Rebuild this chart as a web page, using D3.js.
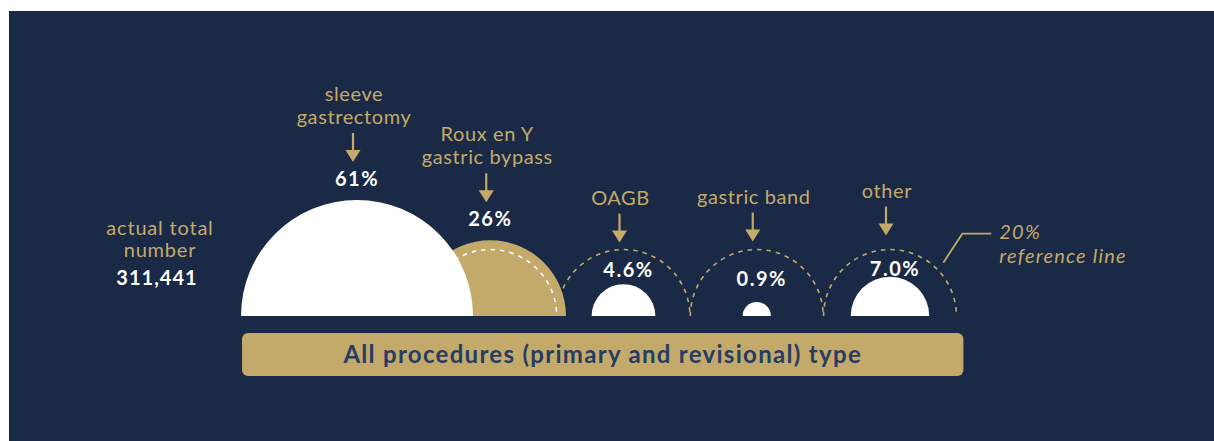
<!DOCTYPE html>
<html>
<head>
<meta charset="utf-8">
<style>
  body { margin: 0; background: #fff; }
  svg { display: block; }
  text { font-family: Lato, "Open Sans", sans-serif; }
</style>
</head>
<body>
<div id="chart"></div>
<script src="https://cdn.jsdelivr.net/npm/d3@7"></script>
<script>
// data
var categories = ["sleeve gastrectomy", "Roux en Y gastric bypass", "OAGB", "gastric band", "other"];
var labelLines = [["sleeve", "gastrectomy"], ["Roux en Y", "gastric bypass"], ["OAGB"], ["gastric band"], ["other"]];
var shares = [61, 26, 4.6, 0.9, 7.0];
var shareLabels = ["61%", "26%", "4.6%", "0.9%", "7.0%"];
var referenceShare = 20;
var totalLabel = ["actual total", "number"];
var totalNumber = "311,441";
var barTitle = "All procedures (primary and revisional) type";
var refNote = ["20%", "reference line"];

// small layout nudges (px), not data
var arrowNudge = [0, 0, 1, 0, -6];
var pctNudge = [0, 0, 0, -9, 6];

var W = 1214, H = 441;
var navy = "#1a2945", gold = "#c4aa6a", barText = "#263c63";
var baseY = 316;

var svg = d3.select("#chart").append("svg").attr("width", W).attr("height", H);

svg.append("rect").attr("x", 9).attr("y", 11).attr("width", W - 9).attr("height", H - 11).attr("fill", navy);

var x = d3.scalePoint().domain(categories).range([357, 890]);
var r = d3.scaleSqrt().domain([0, 100]).range([0, 148.5]);
var rRef = r(referenceShare);

var fills = categories.map(function (d, i) { return shares[i] > 20 && i > 0 ? gold : "#fff"; });

var data = categories.map(function (c, i) {
     return { cat: c, v: shares[i], i: i };
});

var half = d3.arc().innerRadius(0).startAngle(-Math.PI / 2).endAngle(Math.PI / 2);

// semicircles, drawn last-to-first so the biggest sits on top
svg.selectAll("path.semi").data(data.slice().reverse()).enter().append("path")
     .attr("class", "semi")
     .attr("transform", function (d) { return "translate(" + x(d.cat) + "," + baseY + ")"; })
     .attr("d", function (d) { return half({ outerRadius: r(d.v) }); })
     .attr("fill", function (d) { return fills[d.i]; });

// 20% reference arcs
svg.selectAll("path.ref").data(data).enter().append("path")
     .attr("class", "ref")
     .attr("d", function (d) {
          var p = d3.path();
          p.arc(x(d.cat), baseY, rRef, Math.PI, 2 * Math.PI);
          return p.toString();
     })
     .attr("fill", "none")
     .attr("stroke", function (d) { return d.v > referenceShare ? "#fff" : gold; })
     .attr("stroke-width", 1.6)
     .attr("stroke-dasharray", "4.5,5");

function topOf(d) { return baseY - Math.max(r(d.v), rRef); }
function tipOf(d) { return topOf(d) - (d.v > referenceShare ? 38 : 8) + arrowNudge[d.i]; }

// percent labels
svg.selectAll("text.pct").data(data).enter().append("text")
     .attr("class", "pct")
     .attr("x", function (d) { return x(d.cat) + (d.v > referenceShare ? 0 : 5); })
     .attr("y", function (d) {
          return (d.v > referenceShare ? topOf(d) - 14 : baseY - r(d.v) - 7) + pctNudge[d.i];
     })
     .attr("text-anchor", "middle")
     .attr("fill", "#fff")
     .attr("font-weight", 700)
     .attr("font-size", 20)
     .attr("letter-spacing", 1.5)
     .text(function (d) { return shareLabels[d.i]; });

// arrows
var arrows = svg.selectAll("g.arrow").data(data).enter().append("g")
     .attr("class", "arrow")
     .attr("transform", function (d) { return "translate(" + (x(d.cat) - 4) + "," + tipOf(d) + ")"; });
arrows.append("line").attr("x1", 0).attr("x2", 0).attr("y1", -29).attr("y2", -10)
     .attr("stroke", gold).attr("stroke-width", 2.2);
arrows.append("path").attr("d", "M-7.5,-12L7.5,-12L0,0Z").attr("fill", gold);

// category labels
svg.selectAll("text.cat").data(data).enter().append("text")
     .attr("class", "cat")
     .attr("y", function (d) { return tipOf(d) - 38 - (labelLines[d.i].length - 1) * 23; })
     .attr("text-anchor", "middle")
     .attr("fill", gold)
     .attr("font-size", 20)
     .attr("letter-spacing", 0.6)
     .each(function (d) {
          var t = d3.select(this);
          labelLines[d.i].forEach(function (s, k) {
               t.append("tspan").attr("x", x(d.cat) - 3).attr("dy", k ? 23 : 0).text(s);
          });
     });

// total
var tot = svg.append("text").attr("x", 160).attr("y", 235).attr("text-anchor", "middle")
     .attr("fill", gold).attr("font-size", 20).attr("letter-spacing", 0.8);
totalLabel.forEach(function (s, k) {
     tot.append("tspan").attr("x", 160).attr("dy", k ? 22 : 0).text(s);
});
svg.append("text").attr("x", 157).attr("y", 285).attr("text-anchor", "middle")
     .attr("fill", "#fff").attr("font-weight", 700).attr("font-size", 20).attr("letter-spacing", 1)
     .text(totalNumber);

// bottom bar
var barX0 = x(categories[0]) - r(shares[0]) + 1;
var barX1 = x(categories[categories.length - 1]) + rRef + 7;
svg.append("rect").attr("x", barX0).attr("y", 333).attr("width", barX1 - barX0).attr("height", 43)
     .attr("rx", 6).attr("fill", gold);
svg.append("text").attr("x", (barX0 + barX1) / 2).attr("y", 363).attr("text-anchor", "middle")
     .attr("fill", barText).attr("font-weight", 700).attr("font-size", 24).attr("letter-spacing", 1.3)
     .text(barTitle);

// reference line note
var last = data[data.length - 1];
var a = -Math.PI / 4, rr = rRef + 9;
var sx = x(last.cat) + rr * Math.cos(a), sy = baseY + rr * Math.sin(a);
svg.append("path").attr("d", "M" + sx + "," + sy + "L" + (sx + 19) + "," + (sy - 29) + "L" + (sx + 48) + "," + (sy - 29))
     .attr("fill", "none").attr("stroke", gold).attr("stroke-width", 1.8);
var note = svg.append("text").attr("x", sx + 56).attr("y", sy - 24)
     .attr("fill", gold).attr("font-style", "italic").attr("font-size", 20).attr("letter-spacing", 1.2);
refNote.forEach(function (s, k) {
     note.append("tspan").attr("x", sx + 56).attr("dy", k ? 24 : 0).text(s);
});
</script>
</body>
</html>
